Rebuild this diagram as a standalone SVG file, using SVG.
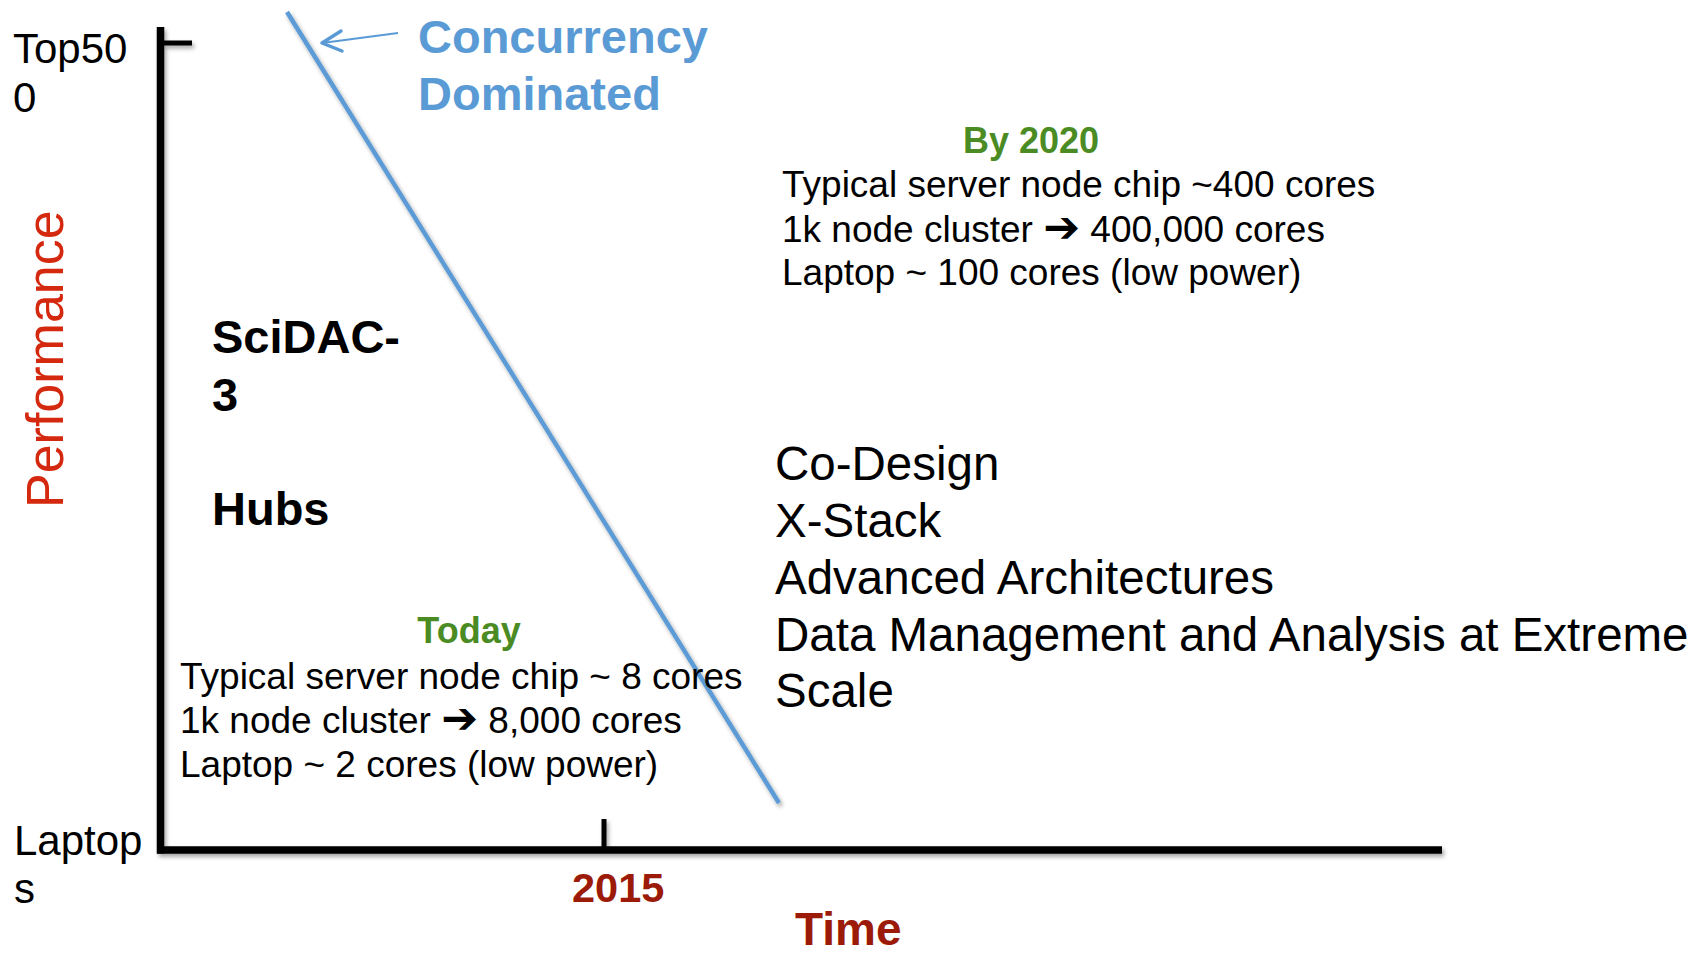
<svg xmlns="http://www.w3.org/2000/svg" width="1700" height="956" viewBox="0 0 1700 956">
<style>
text{font-family:"Liberation Sans",Arial,Helvetica,sans-serif}
.bold{font-weight:bold}
.green{fill:#4b8b24;font-weight:bold;font-size:36px}
.body{font-size:37px;fill:#000}
.list{font-size:47.5px;fill:#000}
.ax{font-size:42px;fill:#000}
.arr{font-family:"DejaVu Sans",sans-serif;font-weight:bold;font-size:44px}
.axis{stroke:#000;stroke-width:7.5;fill:none}
.tick{stroke:#000;stroke-width:5;fill:none}
.blue{stroke:#5b9bd5;fill:none}
.darkred{fill:#9c1b08;font-weight:bold}
</style>
<defs>
<filter id="sh" x="-5%" y="-5%" width="110%" height="110%">
<feDropShadow dx="2" dy="3" stdDeviation="2" flood-color="#000" flood-opacity="0.35"/>
</filter>
</defs>
<rect width="1700" height="956" fill="#fff"/>
<g id="axes" filter="url(#sh)">
<line class="axis" x1="160.5" y1="27" x2="160.5" y2="853.5"/>
<line class="axis" x1="157" y1="850" x2="1442" y2="850"/>
<line class="tick" x1="160" y1="43" x2="192" y2="43"/>
<line class="tick" x1="604" y1="819" x2="604" y2="850"/>
</g>
<g id="axis-labels">
<text class="ax" x="13" y="63">Top50</text>
<text class="ax" x="13" y="112">0</text>
<text class="ax" x="14" y="855">Laptop</text>
<text class="ax" x="14" y="903">s</text>
<text x="63" y="508" transform="rotate(-90 63 508)" font-size="52" fill="#d4290f">Performance</text>
<text class="darkred" x="572" y="902" font-size="41.5">2015</text>
<text class="darkred" x="795" y="945" font-size="46">Time</text>
</g>
<g id="connectors">
<line class="blue" x1="287" y1="12" x2="779" y2="803" stroke-width="4.5" filter="url(#sh)"/>
<line class="blue" x1="398" y1="33" x2="322" y2="43" stroke-width="2"/>
<polyline class="blue" points="341,31 322,43 342,51" stroke-width="3.5" stroke-linecap="round" stroke-linejoin="round"/>
</g>
<g id="concurrency">
<text x="418" y="53" font-size="47" font-weight="bold" fill="#5b9bd5">Concurrency</text>
<text x="418" y="110" font-size="47" font-weight="bold" fill="#5b9bd5">Dominated</text>
</g>
<g id="scidac">
<text class="bold" x="212" y="353" font-size="47">SciDAC-</text>
<text class="bold" x="212" y="411" font-size="47">3</text>
<text class="bold" x="212" y="525" font-size="47">Hubs</text>
</g>
<g id="today">
<text class="green" x="469" y="643" text-anchor="middle">Today</text>
<text class="body" x="180" y="689">Typical server node chip ~ 8 cores</text>
<text class="body" x="180" y="733">1k node cluster <tspan class="arr">➔</tspan> 8,000 cores</text>
<text class="body" x="180" y="777">Laptop ~ 2 cores (low power)</text>
</g>
<g id="by2020">
<text class="green" x="1031" y="153" text-anchor="middle">By 2020</text>
<text class="body" x="782" y="197">Typical server node chip ~400 cores</text>
<text class="body" x="782" y="242">1k node cluster <tspan class="arr">➔</tspan> 400,000 cores</text>
<text class="body" x="782" y="285">Laptop ~ 100 cores (low power)</text>
</g>
<g id="programs">
<text class="list" x="775" y="480">Co-Design</text>
<text class="list" x="775" y="537">X-Stack</text>
<text class="list" x="775" y="594">Advanced Architectures</text>
<text class="list" x="775" y="651">Data Management and Analysis at Extreme</text>
<text class="list" x="775" y="707">Scale</text>
</g>
</svg>
